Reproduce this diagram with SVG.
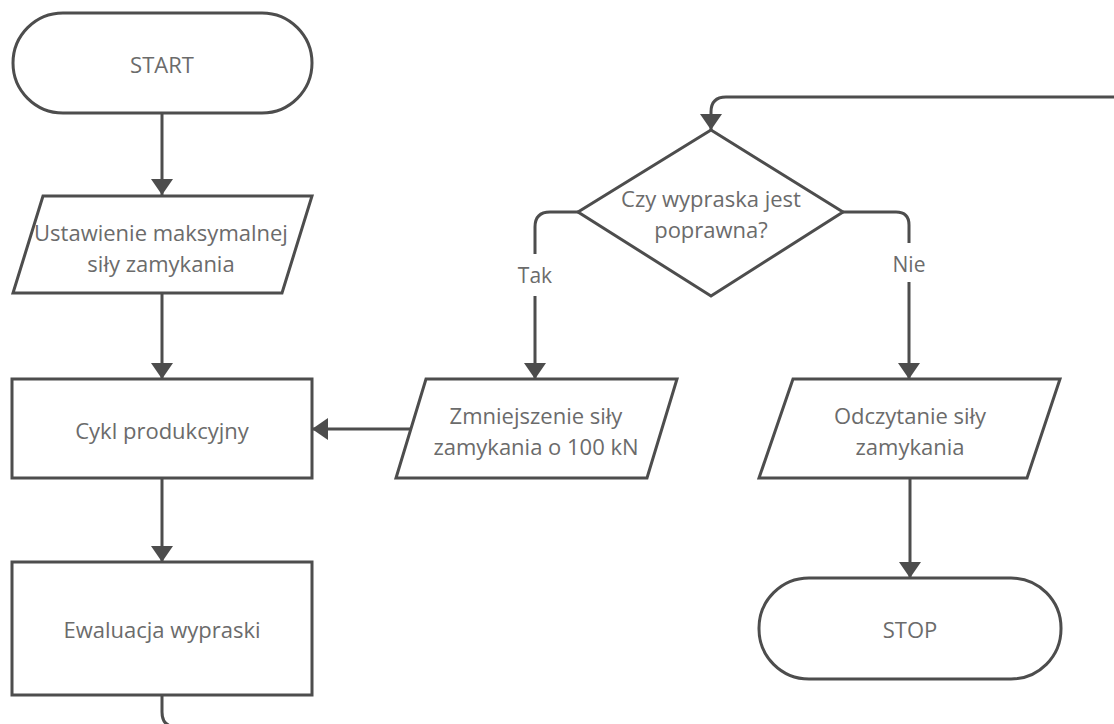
<svg xmlns="http://www.w3.org/2000/svg" width="1114" height="724" viewBox="0 0 1114 724">
  <style>
    .shape { fill: #ffffff; stroke: #4d4d4d; stroke-width: 3; stroke-linejoin: miter; }
    .label { font-family: "Open Sans", "Noto Sans", "Liberation Sans", sans-serif; font-size: 22px; fill: #6b6b6b; text-anchor: middle; }
    .edge-label { font-family: "Open Sans", "Noto Sans", "Liberation Sans", sans-serif; font-size: 21px; fill: #6b6b6b; text-anchor: middle; }
    .edge { fill: none; stroke: #4d4d4d; stroke-width: 3; }
    .edge-arrow { marker-end: url(#arrow); }
  </style>
  <defs>
    <marker id="arrow" markerUnits="userSpaceOnUse" markerWidth="18" markerHeight="24" viewBox="0 0 18 24" refX="16" refY="12" orient="auto">
      <path d="M0,1 L16,12 L0,23 Z" fill="#4d4d4d"/>
    </marker>
  </defs>

  <rect width="1114" height="724" fill="#ffffff"/>

  <!-- connectors -->
  <g id="connectors">
    <path class="edge edge-arrow" d="M162,113 V195"/>
    <path class="edge edge-arrow" d="M162,293 V379"/>
    <path class="edge edge-arrow" d="M162,478 V562"/>
    <path class="edge edge-arrow" d="M162,695 V712 Q162,727 177,727 H1128 V97 H726 Q711,97 711,112 V130"/>
    <path class="edge edge-arrow" d="M578,212 H550 Q535,212 535,227 V379"/>
    <path class="edge edge-arrow" d="M843,212 H896 Q909,212 909,225 V379"/>
    <path class="edge edge-arrow" d="M410,429 H312"/>
    <path class="edge edge-arrow" d="M910,478 V578"/>
    <g id="label-tak">
      <rect x="513" y="254" width="44" height="42" fill="#ffffff"/>
      <text class="edge-label" x="535" y="283">Tak</text>
    </g>
    <g id="label-nie">
      <rect x="887" y="243" width="44" height="39" fill="#ffffff"/>
      <text class="edge-label" x="909" y="272">Nie</text>
    </g>
  </g>

  <!-- nodes -->
  <g id="start">
    <rect class="shape" x="13" y="13" width="299" height="100" rx="50" ry="50"/>
    <text class="label" x="162" y="73">START</text>
  </g>

  <g id="set-max-force">
    <polygon class="shape" points="43,196 312,196 282,293 13,293"/>
    <text class="label" x="161" y="241">Ustawienie maksymalnej</text>
    <text class="label" x="161" y="272">siły zamykania</text>
  </g>

  <g id="production-cycle">
    <rect class="shape" x="12" y="379" width="300" height="99"/>
    <text class="label" x="162" y="439">Cykl produkcyjny</text>
  </g>

  <g id="evaluation">
    <rect class="shape" x="12" y="562" width="300" height="133"/>
    <text class="label" x="162" y="638">Ewaluacja wypraski</text>
  </g>

  <g id="decision">
    <polygon class="shape" points="711,130 843,212 711,296 578,212"/>
    <text class="label" x="711" y="207">Czy wypraska jest</text>
    <text class="label" x="711" y="238">poprawna?</text>
  </g>

  <g id="reduce-force">
    <polygon class="shape" points="426,379 677,379 647,478 396,478"/>
    <text class="label" x="536" y="424">Zmniejszenie siły</text>
    <text class="label" x="536" y="455">zamykania o 100 kN</text>
  </g>

  <g id="read-force">
    <polygon class="shape" points="793,379 1060,379 1027,478 759,478"/>
    <text class="label" x="910" y="424">Odczytanie siły</text>
    <text class="label" x="910" y="455">zamykania</text>
  </g>

  <g id="stop">
    <rect class="shape" x="759" y="578" width="302" height="101" rx="50" ry="50"/>
    <text class="label" x="910" y="638">STOP</text>
  </g>
</svg>
